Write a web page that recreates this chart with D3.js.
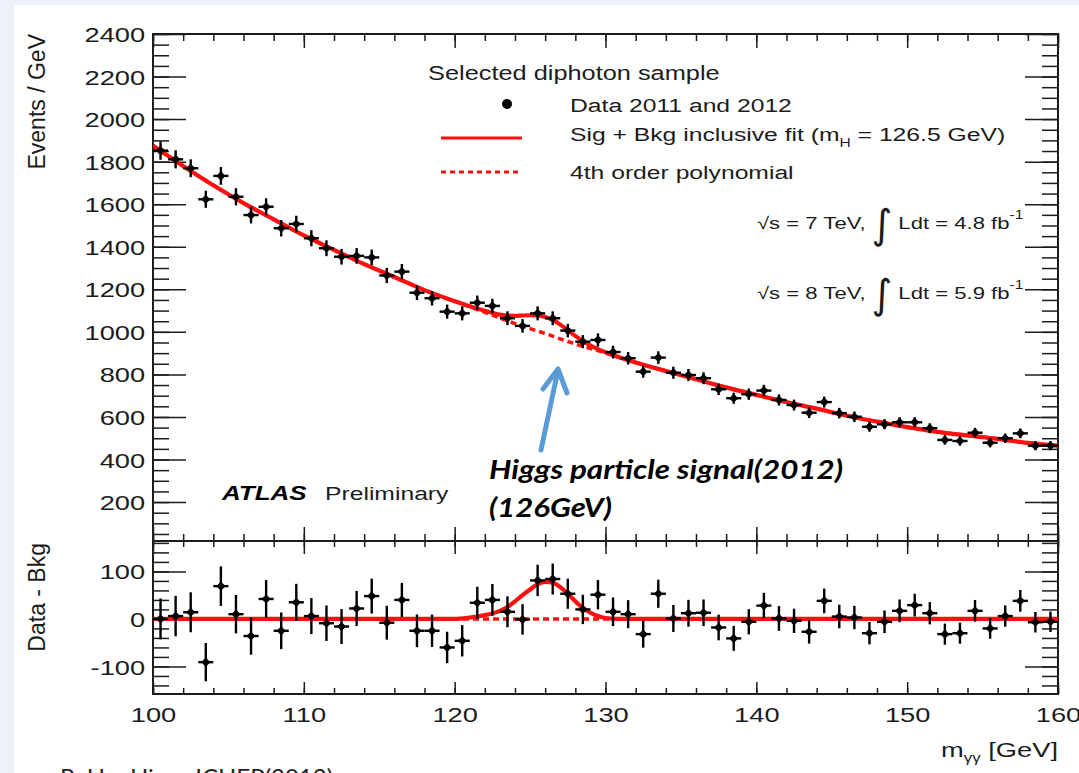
<!DOCTYPE html>
<html><head><meta charset="utf-8">
<script src="https://cdn.jsdelivr.net/npm/d3@7"></script>
<style>body{margin:0;background:#fff;} svg{display:block;}</style>
</head><body><svg id="c" width="1079" height="773"></svg>
<script>
// ---------- data ----------
const binCenters = [100.5,101.5,102.5,103.5,104.5,105.5,106.5,107.5,108.5,109.5,
  110.5,111.5,112.5,113.5,114.5,115.5,116.5,117.5,118.5,119.5,
  120.5,121.5,122.5,123.5,124.5,125.5,126.5,127.5,128.5,129.5,
  130.5,131.5,132.5,133.5,134.5,135.5,136.5,137.5,138.5,139.5,
  140.5,141.5,142.5,143.5,144.5,145.5,146.5,147.5,148.5,149.5,
  150.5,151.5,152.5,153.5,154.5,155.5,156.5,157.5,158.5,159.5];
const events = [1852,1811,1769,1623,1733,1635,1549,1588,1487,1507,
  1440,1393,1353,1357,1350,1265,1283,1184,1158,1095,
  1087,1137,1122,1064,1028,1087,1064,1006,954,962,
  905,876,813,879,808,797,782,730,688,707,
  724,680,656,620,670,618,601,554,566,575,
  575,547,492,487,526,479,500,523,465,465];
const residuals = [0,6,14,-91,69,10,-36,42,-25,35,
  6,-9,-16,22,48,-8,40,-25,-25,-60,
  -46,34,40,15,-1,81,84,53,20,51,
  15,10,-32,53,1,12,13,-18,-41,-6,
  28,1,-4,-27,38,5,3,-30,-6,17,
  29,12,-32,-30,17,-20,6,38,-7,-6];
// 4th order polynomial background (dashed)
const bkgMass = [100,102,104,106,108,110,112,114,116,118,120,122,124,126,128,130,132,134,136,138,140,142,144,146,148,150,152,154,156,158,160];
const bkgVals = [1875,1780,1689,1605,1529,1453,1385,1318,1258,1196,1144,1092,1039,992,943,901,856,816,777,739,704,670,639,606,578,552,530,513,497,478,465];
// Sig + Bkg fit (solid)
const fitMass = [100,102,104,106,108,110,112,114,116,118,120,121,122,123,124,124.5,125,125.5,126,126.5,127,127.5,128,128.5,129,130,131,132,134,136,138,140,142,144,146,148,150,152,154,156,158,160];
const fitVals = [1875,1780,1689,1605,1529,1453,1385,1318,1258,1196,1144,1120,1099,1081,1075,1077,1078,1077,1070,1056,1034,1008,981,957,936,904,878,856,816,777,739,704,670,639,606,578,552,530,513,497,478,465];
// lower panel: background = 0 (dashed), signal (solid)
const resBkgMass = [100,160];
const resBkgVals = [0,0];
const sigMass = [100,120,121,122,123,123.5,124,124.5,125,125.5,126,126.5,127,127.5,128,128.5,129,129.5,130,131,160];
const sigVals = [0,0,3,8,17,25,37,50,62,73,78,76,67,53,37,23,13,6,2,0,0];
// ticks
const xMajorTicks = [100,110,120,130,140,150,160];
const xMinorTicks = [100,102,104,106,108,110,112,114,116,118,120,122,124,126,128,130,132,134,136,138,140,142,144,146,148,150,152,154,156,158,160];
const yTopMajor = [200,400,600,800,1000,1200,1400,1600,1800,2000,2200,2400];
const yTopMinor = [50,100,150,200,250,300,350,400,450,500,550,600,650,700,750,800,850,900,950,1000,1050,1100,1150,1200,1250,1300,1350,1400,1450,1500,1550,1600,1650,1700,1750,1800,1850,1900,1950,2000,2050,2100,2150,2200,2250,2300,2350,2400];
const yBotMajor = [-100,0,100];
const yBotMinor = [-140,-120,-100,-80,-60,-40,-20,0,20,40,60,80,100,120,140,160];

// ---------- setup ----------
const SX = 1.3;
const FONT = "'Liberation Sans', Arial, Helvetica, sans-serif";
const INK = '#1c1c1c';
const RED = '#ff1010';
const svg = d3.select('#c');
svg.append('rect').attr('width',1079).attr('height',773).attr('fill','#edf2f8');
svg.append('rect').attr('x',14).attr('y',5).attr('width',1065).attr('height',768).attr('fill','#fff');

const X0 = 153, X1 = 1058, TOP0 = 34, MID = 541, BOT1 = 694;
const x = d3.scaleLinear().domain([100,160]).range([X0,X1]);
const yT = d3.scaleLinear().domain([17,2400]).range([MID,TOP0]);
const yB = d3.scaleLinear().domain([-158,164]).range([BOT1,MID]);
const fmt = d => String(d);

function styleAxis(g, labels) {
  g.select('.domain').remove();
  g.selectAll('line').attr('stroke',INK).attr('stroke-width',1.5);
  g.selectAll('text').attr('font-family',FONT).attr('font-size',21).attr('fill',INK);
  if (!labels) g.selectAll('text').remove();
  return g;
}
function addAxis(axis, tx, ty, labels) {
  return styleAxis(svg.append('g').attr('transform',`translate(${tx},${ty})`).call(axis), labels);
}
// top panel y
const gyl = addAxis(d3.axisLeft(yT).tickValues(yTopMajor).tickFormat(fmt).tickSizeInner(-33).tickSizeOuter(0).tickPadding(6), X0, 0, true);
gyl.selectAll('text').attr('dy','0.36em').attr('transform',`scale(${SX},1)`);
addAxis(d3.axisLeft(yT).tickValues(yTopMinor).tickSizeInner(-16).tickSizeOuter(0), X0, 0, false);
addAxis(d3.axisRight(yT).tickValues(yTopMajor).tickSizeInner(-33).tickSizeOuter(0), X1, 0, false);
addAxis(d3.axisRight(yT).tickValues(yTopMinor).tickSizeInner(-16).tickSizeOuter(0), X1, 0, false);
// top panel x
addAxis(d3.axisTop(x).tickValues(xMajorTicks).tickSizeInner(-14).tickSizeOuter(0), 0, TOP0, false);
addAxis(d3.axisTop(x).tickValues(xMinorTicks).tickSizeInner(-7).tickSizeOuter(0), 0, TOP0, false);
addAxis(d3.axisBottom(x).tickValues(xMajorTicks).tickSizeInner(-14).tickSizeOuter(0), 0, MID, false);
addAxis(d3.axisBottom(x).tickValues(xMinorTicks).tickSizeInner(-7).tickSizeOuter(0), 0, MID, false);
// bottom panel y
const gbl = addAxis(d3.axisLeft(yB).tickValues(yBotMajor).tickFormat(fmt).tickSizeInner(-33).tickSizeOuter(0).tickPadding(6), X0, 0, true);
gbl.selectAll('text').attr('dy','0.36em').attr('transform',`scale(${SX},1)`);
addAxis(d3.axisLeft(yB).tickValues(yBotMinor).tickSizeInner(-16).tickSizeOuter(0), X0, 0, false);
addAxis(d3.axisRight(yB).tickValues(yBotMajor).tickSizeInner(-33).tickSizeOuter(0), X1, 0, false);
addAxis(d3.axisRight(yB).tickValues(yBotMinor).tickSizeInner(-16).tickSizeOuter(0), X1, 0, false);
// bottom panel x
addAxis(d3.axisTop(x).tickValues(xMajorTicks).tickSizeInner(-13).tickSizeOuter(0), 0, MID, false);
addAxis(d3.axisTop(x).tickValues(xMinorTicks).tickSizeInner(-6).tickSizeOuter(0), 0, MID, false);
const gbx = addAxis(d3.axisBottom(x).tickValues(xMajorTicks).tickFormat(fmt).tickSizeInner(-12).tickSizeOuter(0).tickPadding(13), 0, BOT1, true);
gbx.selectAll('text').attr('dy','0.71em').attr('transform',`scale(${SX},1)`);
addAxis(d3.axisBottom(x).tickValues(xMinorTicks).tickSizeInner(-6).tickSizeOuter(0), 0, BOT1, false);

// frames
svg.append('rect').attr('x',X0).attr('y',TOP0).attr('width',X1-X0).attr('height',MID-TOP0)
  .attr('fill','none').attr('stroke',INK).attr('stroke-width',2);
svg.append('rect').attr('x',X0).attr('y',MID).attr('width',X1-X0).attr('height',BOT1-MID)
  .attr('fill','none').attr('stroke',INK).attr('stroke-width',2);

// clips
const defs = svg.append('defs');
defs.append('clipPath').attr('id','clipT').append('rect').attr('x',X0).attr('y',TOP0).attr('width',X1-X0).attr('height',MID-TOP0);
defs.append('clipPath').attr('id','clipB').append('rect').attr('x',X0).attr('y',MID).attr('width',X1-X0).attr('height',BOT1-MID);

// ---------- curves ----------
const lineT = d3.line().x(d=>x(d[0])).y(d=>yT(d[1])).curve(d3.curveMonotoneX);
const lineB = d3.line().x(d=>x(d[0])).y(d=>yB(d[1])).curve(d3.curveMonotoneX);
const gT = svg.append('g').attr('clip-path','url(#clipT)');
const gB = svg.append('g').attr('clip-path','url(#clipB)');
gT.append('path').attr('d', lineT(d3.zip(bkgMass,bkgVals))).attr('fill','none')
  .attr('stroke',RED).attr('stroke-width',3.5).attr('stroke-dasharray','6,4');
gT.append('path').attr('d', lineT(d3.zip(fitMass,fitVals))).attr('fill','none')
  .attr('stroke',RED).attr('stroke-width',4.2);
gB.append('path').attr('d', lineB(d3.zip(resBkgMass,resBkgVals))).attr('fill','none')
  .attr('stroke',RED).attr('stroke-width',3.5).attr('stroke-dasharray','6,4');
gB.append('path').attr('d', lineB(d3.zip(sigMass,sigVals))).attr('fill','none')
  .attr('stroke',RED).attr('stroke-width',4.2);

// ---------- points ----------
function drawPoints(g, ys, vals) {
  binCenters.forEach((m,i)=>{
    const err = Math.sqrt(events[i]);
    const v = vals[i];
    g.append('line').attr('x1',x(m)).attr('x2',x(m)).attr('y1',ys(v-err)).attr('y2',ys(v+err))
      .attr('stroke','#000').attr('stroke-width',2.4);
    g.append('line').attr('x1',x(m-0.5)).attr('x2',x(m+0.5)).attr('y1',ys(v)).attr('y2',ys(v))
      .attr('stroke','#000').attr('stroke-width',2.4);
    g.append('path').attr('d', d3.symbol().type(d3.symbolSquare).size(42)())
      .attr('transform',`translate(${x(m)},${ys(v)}) rotate(45)`).attr('fill','#000');
  });
}
drawPoints(gT, yT, events);
drawPoints(gB, yB, residuals);

// ---------- texts ----------
function txt(px, py, s, size, o={}) {
  const t = svg.append('text')
    .attr('transform',`translate(${px},${py}) scale(${o.sx ?? SX},1)${o.rot?' rotate(-90)':''}`)
    .attr('font-family', o.family || FONT).attr('font-size', size)
    .attr('fill', o.fill || INK).attr('text-anchor', o.anchor || 'start');
  if (o.weight) t.attr('font-weight', o.weight);
  if (o.style) t.attr('font-style', o.style);
  if (o.len) t.attr('textLength', o.len).attr('lengthAdjust','spacingAndGlyphs');
  if (typeof s === 'string') t.text(s); else s(t);
  return t;
}
// axis titles
txt(45, 34, 'Events / GeV', 23, {sx:1, rot:true, anchor:'end'});
txt(45, 543, 'Data - Bkg', 23, {sx:1, rot:true, anchor:'end'});
txt(1058, 757, t=>{
  t.append('tspan').text('m');
  t.append('tspan').attr('font-size',13).attr('dy',5).text('γγ');
  t.append('tspan').attr('dy',-5).text(' [GeV]');
}, 21, {anchor:'end'});

// legend
txt(428, 80, 'Selected diphoton sample', 19.5);
svg.append('circle').attr('cx',507).attr('cy',104).attr('r',5).attr('fill','#000');
txt(570, 112, 'Data 2011 and 2012', 19);
svg.append('line').attr('x1',441).attr('x2',522).attr('y1',138).attr('y2',138).attr('stroke',RED).attr('stroke-width',3);
txt(570, 141, t=>{
  t.append('tspan').text('Sig + Bkg inclusive fit (m');
  t.append('tspan').attr('font-size',12).attr('dy',6).text('H');
  t.append('tspan').attr('dy',-6).text(' = 126.5 GeV)');
}, 19);
svg.append('line').attr('x1',441).attr('x2',522).attr('y1',172).attr('y2',172).attr('stroke',RED).attr('stroke-width',3).attr('stroke-dasharray','5,4');
txt(570, 179, '4th order polynomial', 19);

// energy / luminosity (laid out left to right)
function lumiLine(py, energy, lumi) {
  const fs = 17;
  const a = txt(757, py, '√s = ' + energy + ' TeV,', fs);
  let cx = 757 + a.node().getComputedTextLength() * SX + 6;
  const b = txt(cx, py + 9, '∫', 40, {sx:1, family:"'DejaVu Sans', sans-serif"});
  cx += b.node().getComputedTextLength() + 6;
  txt(cx, py, t=>{
    t.append('tspan').text('Ldt = ' + lumi + ' fb');
    t.append('tspan').attr('font-size',12).attr('dy',-10).text('-1');
  }, fs);
}
lumiLine(229, '7', '4.8');
lumiLine(299, '8', '5.9');

// ATLAS label
txt(222, 500, 'ATLAS', 20, {weight:'bold', style:'italic', fill:'#000'});
txt(325, 500, 'Preliminary', 19);

// annotation
const AF = "Lato, 'Open Sans', sans-serif";
txt(489, 479, 'Higgs particle signal(2012)', 27, {sx:1, family:AF, weight:'bold', style:'italic', fill:'#000', len:354});
txt(489, 517, '(126GeV)', 27, {sx:1, family:AF, weight:'bold', style:'italic', fill:'#000', len:123});
const BLUE = '#5b9bd5';
svg.append('line').attr('x1',541).attr('y1',450).attr('x2',558).attr('y2',370)
  .attr('stroke',BLUE).attr('stroke-width',5).attr('stroke-linecap','round');
svg.append('path').attr('d','M543,389 L558,369 L567,393').attr('fill','none')
  .attr('stroke',BLUE).attr('stroke-width',5).attr('stroke-linecap','round').attr('stroke-linejoin','round');

// citation (cut off at bottom)
txt(60, 786, 'R. Hu, Higgs ICHEP(2012)', 24, {sx:1, family:AF, fill:'#222'});
</script></body></html>
